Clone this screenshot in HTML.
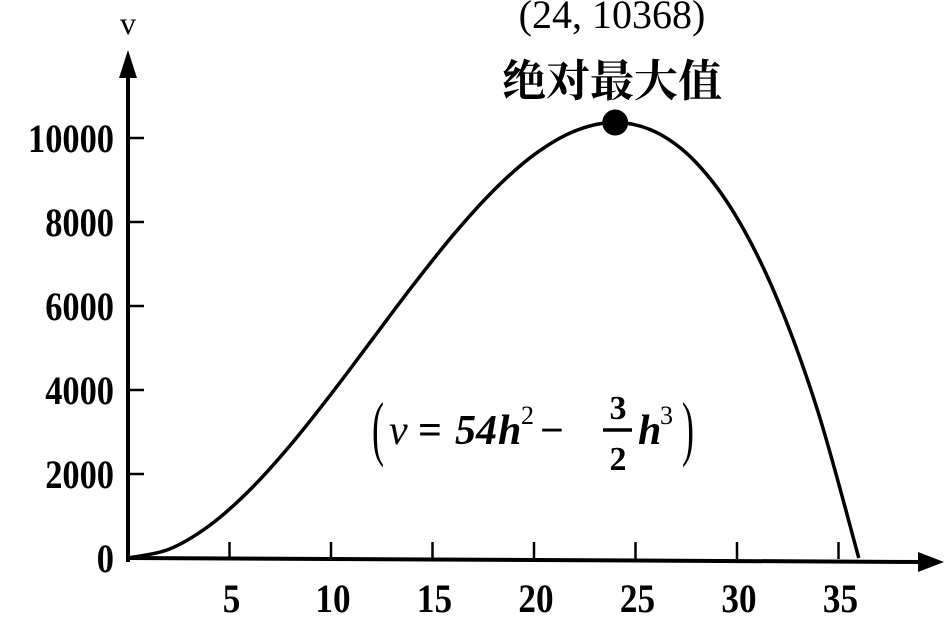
<!DOCTYPE html>
<html><head><meta charset="utf-8"><style>
html,body{margin:0;padding:0;background:#fff;}
svg{display:block;}
text{font-family:"Liberation Serif","Noto Serif CJK SC",serif;fill:#000;}
</style></head><body>
<svg id="chart" width="946" height="618" viewBox="0 0 946 618">
<g id="axes"></g><g id="marks"></g>
</svg>
<script>
const hValues=[0,2,4,6,8,10,12,14,16,18,20,22,24,26,28,30,32,34,36];
const vValues=[0,204,768,1620,2688,3900,5184,6468,7680,8748,9600,10164,10368,10140,9408,8100,6144,3468,0];
const xTicks=[5,10,15,20,25,30,35];
const yTicks=[0,2000,4000,6000,8000,10000];
const peakH=24, peakV=10368;
const NS="http://www.w3.org/2000/svg";
const X=h=>128+h*20.3;
const Y=v=>558-v*0.042;
const axes=document.getElementById('axes'), marks=document.getElementById('marks');
function mk(tag,attrs,parent,txt){const e=document.createElementNS(NS,tag);for(const k in attrs)e.setAttribute(k,attrs[k]);if(txt!==undefined)e.textContent=txt;parent.appendChild(e);return e;}
let e;
e=mk('line',{x1:128,y1:562,x2:128,y2:70,stroke:'#000','stroke-width':4},axes);

e=mk('polygon',{points:'128,50 119,78 137,78',fill:'#000'},axes);

e=mk('line',{x1:126,y1:558,x2:925,y2:562,stroke:'#000','stroke-width':4},axes);

e=mk('polygon',{points:'944,562 918,552 918,572',fill:'#000'},axes);

e=mk('text',{x:120,y:34,'font-size':32},axes,'v');

xTicks.forEach(t=>{
 e=mk('line',{x1:X(t),y1:559,x2:X(t),y2:542,stroke:'#000','stroke-width':2.5},axes);
 
 e=mk('text',{x:X(t)+2,y:612,'font-size':40,'font-weight':'bold','text-anchor':'middle',transform:`translate(${X(t)+2},0) scale(0.88,1) translate(${-(X(t)+2)},0)`},axes,String(t));
 
});
yTicks.forEach(t=>{
 if(t>0){e=mk('line',{x1:128,y1:Y(t),x2:144,y2:Y(t),stroke:'#000','stroke-width':2.5},axes);
 }
 e=mk('text',{x:114,y:Y(t)+14,'font-size':40,'font-weight':'bold','text-anchor':'end',transform:`translate(114,0) scale(0.86,1) translate(-114,0)`},axes,String(t));
 
});
const pts=hValues.map((h,i)=>[X(h),Y(vValues[i])]);
let d='M'+pts[0][0]+','+pts[0][1];
for(let i=0;i<pts.length-1;i++){const p0=pts[Math.max(0,i-1)],p1=pts[i],p2=pts[i+1],p3=pts[Math.min(pts.length-1,i+2)];
 d+=' C'+(p1[0]+(p2[0]-p0[0])/6)+','+(p1[1]+(p2[1]-p0[1])/6)+' '+(p2[0]-(p3[0]-p1[0])/6)+','+(p2[1]-(p3[1]-p1[1])/6)+' '+p2[0]+','+p2[1];}
e=mk('path',{d:d,fill:'none',stroke:'#000','stroke-width':3.5},marks);

e=mk('circle',{cx:X(peakH),cy:Y(peakV),r:13,fill:'#000'},marks);

e=mk('text',{x:612,y:28,'font-size':40,'text-anchor':'middle'},marks,'(24, '+peakV+')');

e=mk('text',{x:612,y:96,'font-size':44,'font-weight':'bold','text-anchor':'middle'},marks,'绝对最大值');

const f=mk('g',{},marks);

mk('text',{x:372,y:452,'font-size':72,transform:'translate(372,0) scale(0.5,1) translate(-372,0)'},f,'(');
mk('text',{x:389,y:444,'font-size':42,'font-style':'italic'},f,'v');
mk('text',{x:418,y:444,'font-size':42,'font-weight':'bold'},f,'=');
mk('text',{x:455,y:444,'font-size':42,'font-style':'italic','font-weight':'bold'},f,'54');
mk('text',{x:498,y:444,'font-size':42,'font-style':'italic','font-weight':'bold'},f,'h');
mk('text',{x:521,y:424,'font-size':26},f,'2');
mk('text',{x:540,y:444,'font-size':42,'font-weight':'bold'},f,'−');
mk('text',{x:618,y:419,'font-size':34,'font-weight':'bold','text-anchor':'middle'},f,'3');
mk('line',{x1:603,y1:430,x2:632,y2:430,stroke:'#000','stroke-width':3.5},f);
mk('text',{x:618,y:470,'font-size':34,'font-weight':'bold','text-anchor':'middle'},f,'2');
mk('text',{x:638,y:444,'font-size':42,'font-style':'italic','font-weight':'bold'},f,'h');
mk('text',{x:660,y:424,'font-size':26},f,'3');
mk('text',{x:682,y:452,'font-size':72,transform:'translate(682,0) scale(0.5,1) translate(-682,0)'},f,')');
</script>
</body></html>
